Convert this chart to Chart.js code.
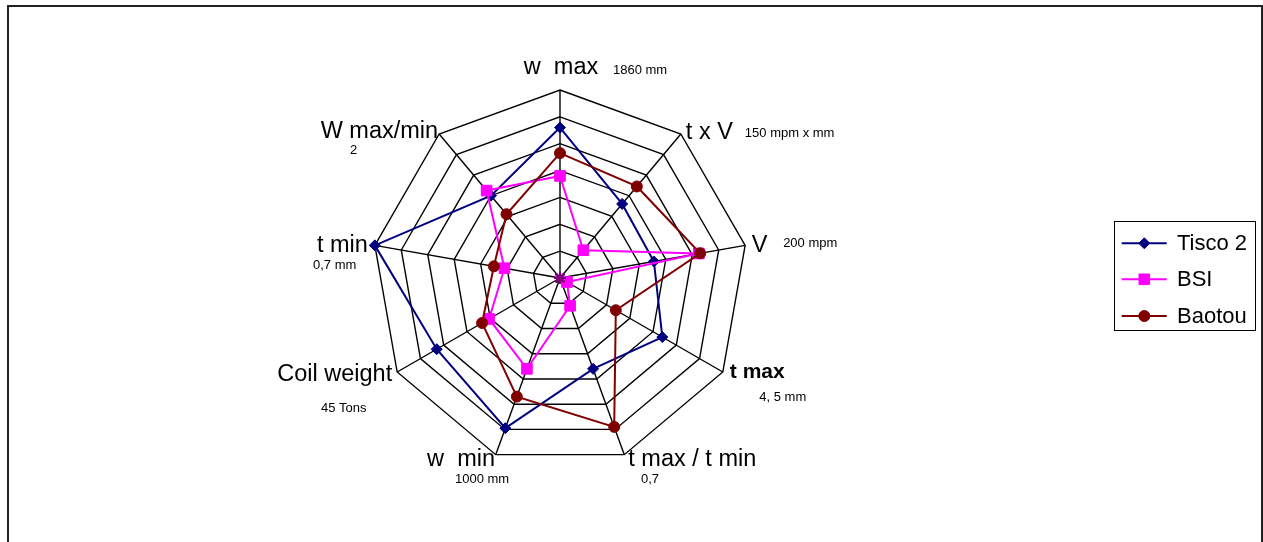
<!DOCTYPE html>
<html><head><meta charset="utf-8">
<script src="https://cdn.jsdelivr.net/npm/chart.js@4.4.0/dist/chart.umd.min.js"></script>
<style>
html,body{margin:0;padding:0;background:#fff;overflow:hidden;width:1263px;height:542px;}
#frame{position:absolute;left:7px;top:5px;width:1252px;height:700px;border:2px solid #222;}
canvas{position:absolute;left:0;top:0;}
</style></head><body>
<div id="frame"></div>
<canvas id="c" width="1263" height="542"></canvas>
<script>
// ---- data ----
const axisNames = ['w  max','t x V','V','t max','t max / t min','w  min','Coil weight','t min','W max/min'];
const axisUnits = ['1860 mm','150 mpm x mm','200 mpm','4, 5 mm','0,7','1000 mm','45 Tons','0,7 mm','2'];
const seriesNames = ['Tisco 2','BSI','Baotou'];
const tisco2 = [5.6, 3.6, 3.55, 4.4, 3.6, 5.95, 5.3, 7.0, 4.0];
const bsi    = [3.8, 1.35, 5.25, 0.3, 1.1, 3.6, 3.05, 2.1, 4.25];
const baotou = [4.65, 4.45, 5.3, 2.4, 5.9, 4.7, 3.35, 2.5, 3.1];
const originSeries = [0, 0, 0, 0, 0, 0, 0, 0, 0];
const scaleMin = 0, scaleMax = 7, scaleStep = 1;

// ---- styles / layout ----
const colors = ['#000080', '#FF00FF', '#800000'];
const styles = ['rectRot', 'rect', 'circle'];
const radii = [5.5, 7.5, 5.5];
const FONT = "'Liberation Sans', Arial, sans-serif";
// label anchor offsets relative to each outer vertex
const mainPos = [
  {a:'center', dx:1, dy:-16}, {a:'left', dx:5, dy:5.3}, {a:'left', dx:6.6, dy:6.3},
  {a:'left', dx:7, dy:6.3, bold:true}, {a:'left', dx:4, dy:11.3}, {a:'right', dx:-0.7, dy:11.3},
  {a:'right', dx:-5, dy:8.7}, {a:'right', dx:-7, dy:6.6}, {a:'right', dx:-1, dy:4.3}
];
const subPos = [
  {dx:53, dy:-16}, {dx:64, dy:3.3}, {dx:38, dy:1.6}, {dx:36.5, dy:28.7}, {dx:16.7, dy:28.6},
  {dx:-40.7, dy:28.6}, {dx:-76.2, dy:39.7}, {dx:-61.9, dy:23.6}, {dx:-89.2, dy:20}
];

function drawMarker(ctx, style, x, y, r, color) {
  ctx.save();
  ctx.fillStyle = color; ctx.strokeStyle = color; ctx.lineWidth = 1;
  ctx.beginPath();
  if (style === 'circle') { ctx.arc(x, y, r, 0, Math.PI * 2); }
  else if (style === 'rect') { const s = r * Math.SQRT1_2; ctx.rect(x - s, y - s, 2 * s, 2 * s); }
  else { ctx.moveTo(x - r, y); ctx.lineTo(x, y - r); ctx.lineTo(x + r, y); ctx.lineTo(x, y + r); ctx.closePath(); }
  ctx.fill(); ctx.stroke();
  ctx.restore();
}

const labelPlugin = {
  id: 'axisLabels',
  afterDraw(chart) {
    const ctx = chart.ctx, sc = chart.scales.r;
    ctx.save();
    ctx.fillStyle = '#000';
    ctx.textBaseline = 'alphabetic';
    axisNames.forEach((name, i) => {
      const p = sc.getPointPosition(i, sc.drawingArea);
      const m = mainPos[i];
      ctx.font = (m.bold ? 'bold 21px ' : '23.5px ') + FONT;
      ctx.textAlign = m.a;
      ctx.fillText(name, p.x + m.dx, p.y + m.dy);
      const s = subPos[i];
      ctx.font = '13px ' + FONT;
      ctx.textAlign = 'left';
      ctx.fillText(axisUnits[i], p.x + s.dx, p.y + s.dy);
    });
    // legend
    const bx = 1114.5, by = 221.5, bw = 141, bh = 109;
    ctx.fillStyle = '#fff'; ctx.fillRect(bx, by, bw, bh);
    ctx.strokeStyle = '#000'; ctx.lineWidth = 1; ctx.strokeRect(bx, by, bw, bh);
    const rows = [243.3, 279.3, 316];
    seriesNames.forEach((n, k) => {
      const y = rows[k];
      ctx.strokeStyle = colors[k]; ctx.lineWidth = 2;
      ctx.beginPath(); ctx.moveTo(1121.7, y); ctx.lineTo(1166.7, y); ctx.stroke();
      drawMarker(ctx, styles[k], 1144.3, y, radii[k], colors[k]);
      ctx.fillStyle = '#000'; ctx.font = '22px ' + FONT; ctx.textAlign = 'left'; ctx.textBaseline = 'middle';
      ctx.fillText(n, 1177, y + 1);
    });
    ctx.restore();
  }
};

const seriesData = [tisco2, bsi, baotou];
const datasets = seriesNames.map((n, k) => ({
  label: n, data: seriesData[k], borderColor: colors[k], backgroundColor: colors[k],
  pointBackgroundColor: colors[k], pointBorderColor: colors[k], pointStyle: styles[k],
  pointRadius: radii[k], pointBorderWidth: 1, borderWidth: 2, fill: false, tension: 0,
  clip: false, order: 2 - k
}));
datasets.push({
  label: 'origin', data: originSeries, borderColor: '#800080', backgroundColor: '#800080',
  pointStyle: 'star', pointRadius: 6, pointBorderWidth: 2, borderWidth: 2, showLine: false,
  fill: false, clip: false, order: -1
});

new Chart(document.getElementById('c'), {
  type: 'radar',
  data: { labels: axisNames, datasets },
  options: {
    responsive: false, animation: false, devicePixelRatio: 1,
    layout: { padding: { left: 372, top: 90, right: 515, bottom: 76 } },
    plugins: { legend: { display: false }, tooltip: { enabled: false } },
    elements: { line: { tension: 0 } },
    scales: {
      r: {
        min: scaleMin, max: scaleMax, beginAtZero: true,
        ticks: { display: false, stepSize: scaleStep },
        pointLabels: { display: false },
        grid: { color: '#000', lineWidth: 1.4, circular: false },
        angleLines: { color: '#000', lineWidth: 1.4 }
      }
    }
  },
  plugins: [labelPlugin]
});
</script>
</body></html>
